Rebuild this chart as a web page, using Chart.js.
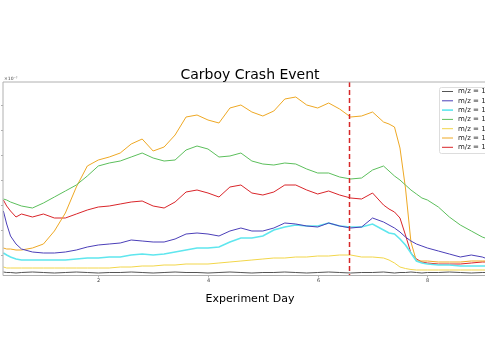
<!DOCTYPE html>
<html>
<head>
<meta charset="utf-8">
<script src="https://cdn.jsdelivr.net/npm/chart.js@4"></script>
<style>
html,body{margin:0;padding:0;background:#fff;}
#wrap{width:485px;height:360px;}
</style>
</head>
<body>
<div id="wrap"><canvas id="c" width="485" height="360"></canvas></div>
<script>
const chartTitle = "Carboy Crash Event";
const xAxisTitle = "Experiment Day";
const offsetLabel = "×10⁻⁷";
const xTicks = [2, 4, 6, 8];
const yTicks = [1, 2, 3, 4, 5, 6, 7];
const crashDay = 6.58;
const seriesLabels = ["m/z = 1","m/z = 1","m/z = 1","m/z = 1","m/z = 1","m/z = 1","m/z = 1"];

const days = [0.27,0.33,0.4,0.5,0.6,0.8,1.0,1.2,1.4,1.6,
  1.8,2.0,2.2,2.4,2.6,2.8,3.0,3.2,3.4,3.6,
  3.8,4.0,4.2,4.4,4.6,4.8,5.0,5.2,5.4,5.6,
  5.8,6.0,6.2,6.4,6.6,6.8,7.0,7.2,7.3,7.4,
  7.5,7.6,7.7,7.8,7.9,8.0,8.2,8.4,8.6,8.8,
  9.0,9.05];

const greyVals = [0.32,0.30,0.30,0.28,0.30,0.32,0.30,0.28,0.30,0.32,
  0.30,0.28,0.30,0.30,0.32,0.30,0.28,0.30,0.32,0.30,
  0.30,0.28,0.30,0.32,0.30,0.28,0.30,0.30,0.32,0.30,
  0.28,0.30,0.32,0.30,0.28,0.30,0.30,0.32,0.30,0.28,
  0.30,0.30,0.32,0.30,0.28,0.30,0.30,0.32,0.30,0.28,
  0.30,0.30];
const blueVals = [2.76,2.24,1.76,1.44,1.24,1.12,1.08,1.08,1.12,1.20,
  1.32,1.40,1.44,1.48,1.60,1.56,1.52,1.52,1.64,1.84,
  1.88,1.84,1.76,1.96,2.08,1.96,1.96,2.08,2.28,2.24,
  2.16,2.12,2.28,2.16,2.08,2.12,2.48,2.32,2.20,2.08,
  1.92,1.72,1.56,1.44,1.36,1.28,1.16,1.04,0.92,1.00,
  0.92,0.88];
const cyanVals = [1.08,1.00,0.92,0.84,0.80,0.80,0.80,0.80,0.80,0.84,
  0.88,0.88,0.92,0.92,1.00,1.04,1.00,1.04,1.12,1.20,
  1.28,1.28,1.32,1.52,1.68,1.68,1.76,2.00,2.12,2.20,
  2.16,2.16,2.28,2.16,2.12,2.12,2.24,2.00,1.88,1.84,
  1.64,1.40,1.08,0.76,0.68,0.64,0.60,0.60,0.56,0.56,
  0.56,0.56];
const greenVals = [3.24,3.20,3.12,3.04,2.96,2.88,3.08,3.32,3.56,3.80,
  4.16,4.56,4.68,4.76,4.92,5.08,4.88,4.76,4.80,5.20,
  5.36,5.24,4.92,4.96,5.08,4.76,4.64,4.60,4.68,4.64,
  4.44,4.28,4.28,4.12,4.04,4.08,4.40,4.56,4.36,4.16,
  4.00,3.80,3.60,3.44,3.28,3.20,2.92,2.52,2.20,1.96,
  1.72,1.68];
const yellowVals = [0.52,0.48,0.48,0.48,0.48,0.48,0.48,0.48,0.48,0.48,
  0.48,0.48,0.48,0.52,0.52,0.56,0.56,0.60,0.60,0.64,
  0.64,0.64,0.68,0.72,0.76,0.80,0.84,0.88,0.88,0.92,
  0.92,0.96,0.96,1.00,1.00,0.92,0.92,0.88,0.80,0.68,
  0.52,0.46,0.42,0.40,0.40,0.40,0.40,0.40,0.40,0.40,
  0.40,0.40];
const orangeVals = [1.28,1.24,1.24,1.20,1.20,1.28,1.44,1.96,2.68,3.72,
  4.56,4.80,4.92,5.08,5.44,5.64,5.16,5.32,5.80,6.52,
  6.60,6.40,6.28,6.88,7.00,6.72,6.56,6.76,7.24,7.32,
  7.00,6.88,7.08,6.84,6.52,6.56,6.72,6.32,6.24,6.12,
  5.28,3.68,1.52,0.76,0.76,0.76,0.72,0.72,0.72,0.76,
  0.76,0.76];
const redVals = [3.20,2.96,2.76,2.52,2.64,2.52,2.64,2.48,2.48,2.64,
  2.80,2.92,2.96,3.04,3.12,3.16,2.96,2.88,3.12,3.52,
  3.60,3.48,3.32,3.72,3.80,3.48,3.40,3.52,3.80,3.80,
  3.60,3.44,3.56,3.40,3.28,3.24,3.48,3.00,2.84,2.72,
  2.48,1.80,1.08,0.84,0.72,0.68,0.64,0.64,0.64,0.68,
  0.72,0.72];

const seriesValues = [greyVals, blueVals, cyanVals, greenVals, yellowVals, orangeVals, redVals];
const seriesColors = ["#555555", "#4b3fb8", "#5fe6ee", "#5cbf5c", "#f2d64a", "#eea824", "#d9252a"];
const seriesWidths = [1, 1, 1.6, 1, 1, 1, 1];

const FONT = "'DejaVu Sans', sans-serif";

const datasets = seriesValues.map((vals, i) => ({
  label: seriesLabels[i],
  data: days.map((d, j) => ({x: d, y: vals[j]})),
  borderColor: seriesColors[i],
  backgroundColor: seriesColors[i],
  borderWidth: seriesWidths[i],
  pointRadius: 0,
  tension: 0,
  fill: false
}));

const decor = {
  id: 'decor',
  afterDatasetsDraw(chart) {
    const ctx = chart.ctx, a = chart.chartArea;
    const xs = chart.scales.x, ys = chart.scales.y;
    ctx.save();
    // crash line
    const cx = xs.getPixelForValue(crashDay);
    ctx.strokeStyle = '#d62728';
    ctx.lineWidth = 1.5;
    ctx.setLineDash([5, 3]);
    ctx.beginPath(); ctx.moveTo(cx, a.top); ctx.lineTo(cx, a.bottom); ctx.stroke();
    ctx.setLineDash([]);
    // spines
    ctx.strokeStyle = '#b0b0b0';
    ctx.lineWidth = 1;
    ctx.beginPath();
    ctx.moveTo(a.left, a.bottom); ctx.lineTo(a.left, a.top); ctx.lineTo(a.right, a.top);
    ctx.moveTo(a.left, a.bottom); ctx.lineTo(a.right, a.bottom);
    ctx.stroke();
    // x ticks
    ctx.fillStyle = '#444';
    ctx.font = "5px " + FONT;
    ctx.textAlign = 'center';
    ctx.textBaseline = 'top';
    xTicks.forEach(t => {
      const px = Math.round(xs.getPixelForValue(t)) + 0.5;
      ctx.beginPath(); ctx.moveTo(px, a.bottom); ctx.lineTo(px, a.bottom + 2); ctx.stroke();
      ctx.fillText(String(t), px, a.bottom + 3);
    });
    // y ticks
    yTicks.forEach(t => {
      const py = Math.round(ys.getPixelForValue(t)) + 0.5;
      ctx.beginPath(); ctx.moveTo(a.left - 2, py); ctx.lineTo(a.left, py); ctx.stroke();
    });
    // offset text
    ctx.textAlign = 'left';
    ctx.textBaseline = 'alphabetic';
    ctx.font = "4.5px " + FONT;
    ctx.fillText(offsetLabel, a.left + 1, a.top - 2);
    // title
    ctx.fillStyle = '#000';
    ctx.font = "14px " + FONT;
    ctx.textAlign = 'center';
    ctx.fillText(chartTitle, 250, 79);
    ctx.font = "11px " + FONT;
    ctx.fillText(xAxisTitle, 250, 302);
    // legend
    const lx = 439, ly = 87, lw = 60, lh = 66;
    ctx.fillStyle = 'rgba(255,255,255,0.85)';
    ctx.strokeStyle = '#dddddd';
    ctx.lineWidth = 1;
    ctx.beginPath();
    ctx.roundRect ? ctx.roundRect(lx + 0.5, ly + 0.5, lw, lh, 2) : ctx.rect(lx + 0.5, ly + 0.5, lw, lh);
    ctx.fill(); ctx.stroke();
    ctx.font = "7px " + FONT;
    ctx.textAlign = 'left';
    ctx.textBaseline = 'middle';
    chart.data.datasets.forEach((ds, i) => {
      const yy = 91.5 + i * 9.3;
      ctx.strokeStyle = ds.borderColor;
      ctx.lineWidth = ds.borderWidth;
      ctx.beginPath(); ctx.moveTo(442, yy); ctx.lineTo(453, yy); ctx.stroke();
      ctx.fillStyle = '#222';
      ctx.fillText(ds.label, 458, yy);
    });
    ctx.restore();
  }
};

new Chart(document.getElementById('c'), {
  type: 'line',
  data: { datasets },
  options: {
    responsive: false,
    animation: false,
    devicePixelRatio: 1,
    layout: { padding: { left: 3, right: 0, top: 82, bottom: 84.5 } },
    plugins: { legend: { display: false }, title: { display: false }, tooltip: { enabled: false } },
    scales: {
      x: { type: 'linear', min: 0.263, max: 9.05, display: false },
      y: { type: 'linear', min: 0.18, max: 7.92, display: false }
    }
  },
  plugins: [decor]
});
</script>
</body>
</html>
